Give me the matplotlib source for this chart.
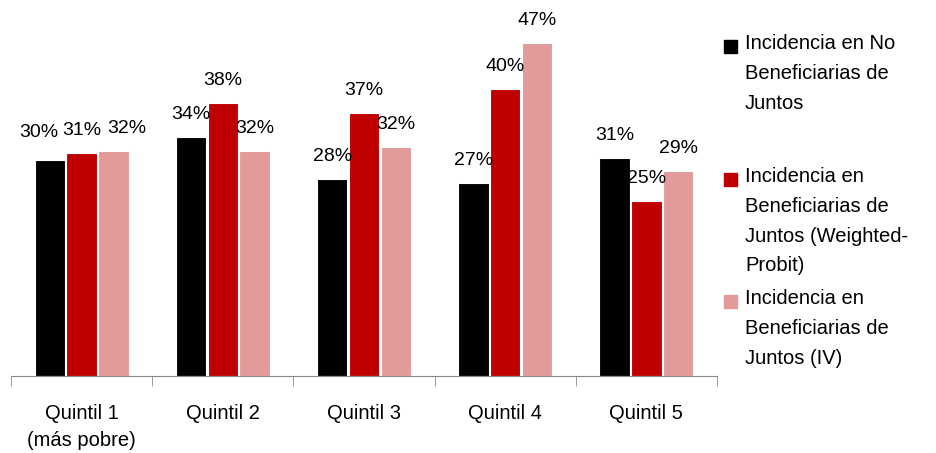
import numpy as np
import matplotlib.pyplot as plt
from matplotlib.patches import Rectangle

categories = ['Quintil 1\n(más pobre)', 'Quintil 2', 'Quintil 3', 'Quintil 4', 'Quintil 5']
no_benef = [30.4, 33.7, 27.8, 27.2, 30.7]
benef_probit = [31.4, 38.4, 37.1, 40.4, 24.7]
benef_iv = [31.7, 31.7, 32.2, 46.9, 28.9]
series = [no_benef, benef_probit, benef_iv]
series_names = ['Incidencia en No\nBeneficiarias de\nJuntos',
                'Incidencia en\nBeneficiarias de\nJuntos (Weighted-\nProbit)',
                'Incidencia en\nBeneficiarias de\nJuntos (IV)']
colors = ['#000000', '#C00000', '#E39A9B']

plt.rcParams['font.family'] = ['Liberation Sans', 'DejaVu Sans']
fs = 14.5

W, H = 936, 453
fig = plt.figure(figsize=(W / 100, H / 100), dpi=100)
ax = fig.add_axes([11 / W, 77 / H, (717 - 11) / W, 355 / H])

# labels in the first group are pushed apart so they don't collide
nudge = {(0, 0): (-8, 4), (0, 2): (10, 0)}

x = np.arange(len(categories))
width = 0.215
for i, (vals, c) in enumerate(zip(series, colors)):
    pos = x + (i - 1) * (width + 0.01)
    bars = ax.bar(pos, vals, width, color=c, edgecolor='white', linewidth=0.8)
    for j, (b, v) in enumerate(zip(bars, vals)):
        dx, dy = nudge.get((j, i), (0, 0))
        ax.annotate(f'{round(v):.0f}%', (b.get_x() + b.get_width() / 2, v),
                    xytext=(dx, 10 + dy), textcoords='offset points',
                    ha='center', va='bottom', fontsize=14)

ax.set_xlim(-0.5, len(categories) - 0.5)
ax.set_ylim(0, 50)
for s in ['top', 'right', 'left']:
    ax.spines[s].set_visible(False)
ax.spines['bottom'].set_color('#888888')
ax.set_yticks([])
ax.set_xticks(np.arange(len(categories) + 1) - 0.5, minor=True)
ax.set_xticks(x)
ax.set_xticklabels(categories, fontsize=fs, linespacing=1.55)
ax.tick_params(axis='x', which='major', length=0, pad=20)
ax.tick_params(axis='x', which='minor', length=7, color='#888888')

# legend drawn by hand
starts = [47, 180, 302]
for name, c, y0 in zip(series_names, colors, starts):
    fig.patches.append(Rectangle((724 / W, 1 - (y0 + 6) / H), 13 / W, 13 / H,
                                 transform=fig.transFigure, color=c))
    fig.text(745 / W, 1 - (y0 - 13) / H, name, fontsize=fs, va='top',
             linespacing=1.72)

fig.savefig('out.png', dpi=100)
